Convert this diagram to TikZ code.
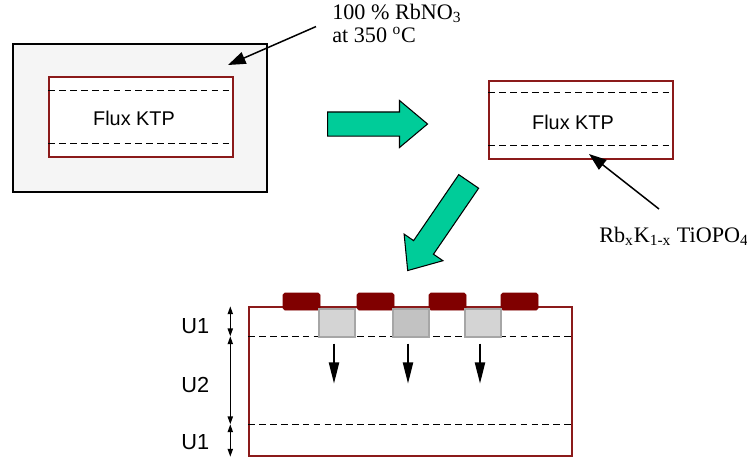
\documentclass[tikz,border=0pt]{standalone}
\usepackage{fontspec}
\setmainfont{Liberation Serif}
\setsansfont{Liberation Sans}
\usetikzlibrary{arrows.meta,positioning,fit,shapes.arrows,calc}
\newlength\unitpx
\setlength\unitpx{0.02cm}
\definecolor{ktpred}   {RGB}{139,26,26}
\definecolor{padred}   {RGB}{128,0,0}
\definecolor{flowgreen}{RGB}{0,204,153}
\definecolor{bathgray} {RGB}{245,245,245}
\definecolor{wingray}  {RGB}{212,212,212}
\definecolor{wingraydk}{RGB}{194,194,194}
\tikzset{
  holder/.style  ={draw=black, fill=bathgray, line width=0.8pt, inner sep=0pt},
  crystal/.style ={draw=ktpred, fill=white, line width=0.8pt, inner sep=0pt},
  layer/.style   ={dash pattern=on 3.8pt off 2.4pt, line width=0.85pt},
  pad/.style     ={fill=padred, draw=padred, rounded corners=1pt, inner sep=0pt},
  window/.style  ={fill=wingray, draw=gray!70, line width=0.6pt, inner sep=0pt},
  bigarrow/.style={single arrow, draw=black, fill=flowgreen, line width=0.6pt,
                   inner xsep=0pt, inner ysep=11.5\unitpx, anchor=tail,
                   single arrow head extend=11.5\unitpx,
                   single arrow tip angle=80},
  lbl/.style     ={font=\sffamily\fontsize{11.3}{13}\selectfont, inner sep=0pt},
  ann/.style     ={font=\fontsize{12.6}{13}\selectfont, inner sep=0pt, align=left},
  callout/.style ={-{Triangle[length=10pt, width=7pt]}, line width=0.85pt},
  drift/.style   ={-{Triangle[length=12pt, width=5.8pt]}, line width=0.8pt},
  dim/.style     ={{Triangle[length=4.5pt, width=3pt]}-{Triangle[length=4.5pt, width=3pt]},
                   line width=0.7pt},
}

\begin{document}
\begin{tikzpicture}[x=\unitpx, y=-\unitpx]
  \useasboundingbox (0,0) rectangle (747,461);
  % exchange bath
  \node[holder, fit={(13,44) (267,192)}] (bath) {};
  \node[crystal, fit={(49,77) (233,157)}] (ktp1) {};
  \draw[layer] ($(ktp1.north west)+(0,14)$) -- ($(ktp1.north east)+(-5,14)$);
  \draw[layer] ($(ktp1.south west)+(0,-14)$) -- ($(ktp1.south east)+(-5,-14)$);
  \node[lbl] (ktp1txt) at ($(ktp1.center)+(-7,1)$) {Flux KTP};
  \node[ann, anchor=north west] (bathtxt) at (332,4)
       {100 \% RbNO\textsubscript{3}\\at 350 \textsuperscript{o}C};
  \coordinate (bathpt) at (228,65);
  \draw[callout] ($(bathtxt.west)+(-16,3)$) -- (bathpt);

  \node[bigarrow, minimum height=100\unitpx] (step1) at (327,124) {};

  % exchanged crystal
  \node[crystal, fit={(489,81) (673,159)}] (ktp2) {};
  \draw[layer] ($(ktp2.north west)+(0,12)$) -- ($(ktp2.north east)+(-5,12)$);
  \draw[layer] ($(ktp2.south west)+(0,-14)$) -- ($(ktp2.south east)+(-5,-14)$);
  \node[lbl] (ktp2txt) at ($(ktp2.center)+(-8,2)$) {Flux KTP};
  \node[ann, anchor=base west] (rbtxt) at (599,242)
       {Rb\textsubscript{x}K\textsubscript{1-x} TiOPO\textsubscript{4}};
  \coordinate (ktp2pt) at (589,154);
  \draw[callout] (659,209) -- (ktp2pt);

  \node[bigarrow, minimum height=108\unitpx, rotate=235.6] (step2) at (469,181) {};

  % waveguide cross-section
  \node[crystal, fit={(249,307) (572,456)}] (ktp3) {};
  \draw[layer] ($(ktp3.north west)+(0,30)$) coordinate (d1r) -- ($(ktp3.north east)+(-2,30)$);
  \draw[layer] ($(ktp3.north west)+(0,118)$) coordinate (d2r) -- ($(ktp3.north east)+(-2,118)$);
  \foreach \x [count=\i] in {283,357,429,501}
    \node[pad, fit={(\x,293) (\x+37,310)}] (pad\i) {};
  \foreach \x/\c [count=\i] in {319/wingray,393/wingraydk,465/wingray}{
    \node[window, fill=\c, fit={(\x,309) (\x+36,337)}] (win\i) {};
    \draw[drift] ($(win\i.south)+(-3,6)$) -- ++(0,40);
  }

  \coordinate (d0) at ($(ktp3.north west)+(-18,0)$);
  \coordinate (d1) at ($(d1r)+(-18,0)$);
  \coordinate (d2) at ($(d2r)+(-18,0)$);
  \coordinate (d3) at ($(ktp3.south west)+(-18,0)$);
  \draw[dim] (d0) -- (d1);
  \draw[dim] (d1) -- (d2);
  \draw[dim] (d2) -- (d3);
  \node[lbl, font=\sffamily\fontsize{12.4}{14}\selectfont] (u1top) at ($(d0)!0.5!(d1)+(-35,5)$) {U1};
  \node[lbl, font=\sffamily\fontsize{12.4}{14}\selectfont] (u2)    at ($(d1)!0.5!(d2)+(-35,5)$) {U2};
  \node[lbl, font=\sffamily\fontsize{12.4}{14}\selectfont] (u1bot) at ($(d2)!0.5!(d3)+(-35,2)$) {U1};
\end{tikzpicture}
\end{document}
